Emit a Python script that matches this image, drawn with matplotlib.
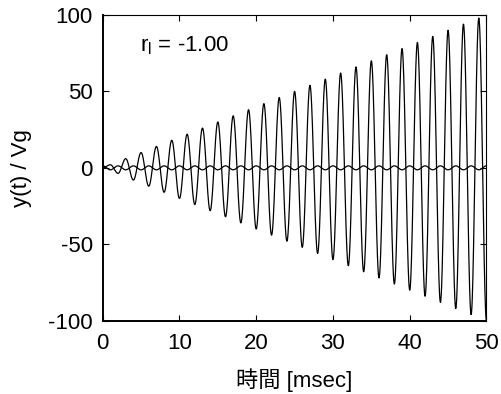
import matplotlib
matplotlib.use("Agg")
import matplotlib.pyplot as plt
import numpy as np

# extrema of the growing response (t in msec)
peak_t = list(range(0, 51))
peak_y = [0, 2, -3.6, 6, -8, 10, -12, 14, -16, 18, -20,
          22, -24, 26, -28, 30, -32, 34, -36, 38, -40,
          42, -44, 46, -48, 50, -52, 54, -56, 58, -60,
          62, -64, 66, -68, 70, -72, 74, -76, 78, -80,
          82, -84, 86, -88, 90, -92, 94, -96, 98, -100]
# small constant-amplitude ripple
ripple_t = list(range(0, 51))
ripple_y = [1.3 if k % 2 == 0 else -1.3 for k in ripple_t]

x_ticks = [0, 10, 20, 30, 40, 50]
y_ticks = [-100, -50, 0, 50, 100]
label_text = "r$_\\mathregular{l}$ = -1.00"


def smooth_through(tk, yk, n=40):
    # half-cosine segments between successive extrema
    ts, ys = [], []
    for i in range(len(tk) - 1):
        s = np.linspace(0, 1, n, endpoint=False)
        ts.append(tk[i] + (tk[i + 1] - tk[i]) * s)
        ys.append(yk[i] + (yk[i + 1] - yk[i]) * (1 - np.cos(np.pi * s)) / 2)
    ts.append([tk[-1]])
    ys.append([yk[-1]])
    return np.concatenate(ts), np.concatenate(ys)


plt.rcParams["font.family"] = ["Liberation Sans", "Noto Sans CJK JP", "DejaVu Sans"]
plt.rcParams["font.size"] = 16
plt.rcParams["axes.unicode_minus"] = False

fig = plt.figure(figsize=(5.01, 3.94), dpi=100)
ax = fig.add_axes([0.205, 0.186, 0.766, 0.776])

t1, y1 = smooth_through(peak_t, peak_y)
t2, y2 = smooth_through(ripple_t, ripple_y)
ax.plot(t1, y1, color="black", lw=0.9)
ax.plot(t2, y2, color="black", lw=0.9)

ax.set_xlim(0, 50)
ax.set_ylim(-100, 100)
ax.set_xticks(x_ticks)
ax.set_yticks(y_ticks)
ax.tick_params(direction="in", top=True, right=True, length=4, width=0.8,
               labelsize=16)
ax.tick_params(axis="x", pad=9)
ax.tick_params(axis="y", pad=7)
for side in ["left", "bottom"]:
    ax.spines[side].set_linewidth(1.4)
for side in ["top", "right"]:
    ax.spines[side].set_linewidth(0.8)

ax.set_xlabel("時間 [msec]", fontsize=16, labelpad=10)
ax.set_ylabel("y(t) / Vg", fontsize=16, labelpad=12)
ax.text(4.85, 80, label_text, fontsize=16, ha="left", va="center")

fig.savefig("out.png", dpi=100)
